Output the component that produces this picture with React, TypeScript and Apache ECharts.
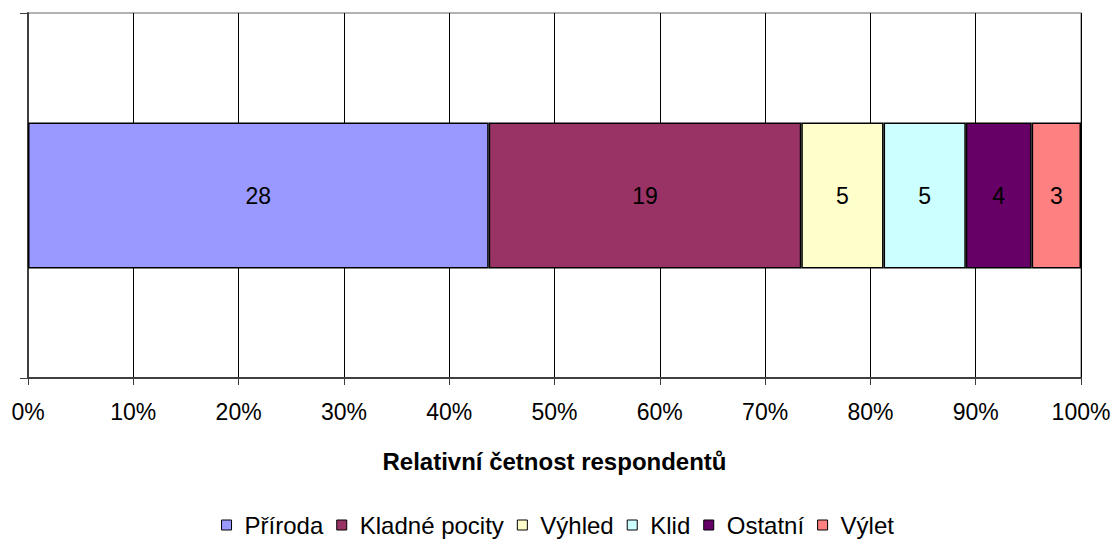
import React, { useEffect, useRef } from "react";
import * as echarts from "echarts";

const categories = ["Příroda", "Kladné pocity", "Výhled", "Klid", "Ostatní", "Výlet"];
const counts = [28, 19, 5, 5, 4, 3];
const colors = ["#9999FF", "#993366", "#FFFFCC", "#CCFFFF", "#660066", "#FF8080"];
const axisTitle = "Relativní četnost respondentů";

export default function App() {
  const ref = useRef<HTMLDivElement>(null);
  useEffect(() => {
    if (!ref.current) return;
    const chart = echarts.init(ref.current, null, { renderer: "svg" });
    const total = counts.reduce((a, b) => a + b, 0);
    const font = "'Liberation Sans', Arial, sans-serif";
    chart.setOption({
      animation: false,
      textStyle: { fontFamily: font },
      grid: {
        left: 28,
        right: 34,
        top: 13,
        bottom: 162,
        show: true,
        borderColor: "#999999",
        borderWidth: 1.5,
      },
      legend: {
        data: categories,
        top: 512,
        left: "center",
        padding: 0,
        itemWidth: 10,
        itemHeight: 10,
        itemGap: 13,
        icon: "rect",
        textStyle: { fontSize: 24, lineHeight: 26, color: "#000", fontFamily: font, padding: [0, 0, 0, 8] },
        itemStyle: { borderColor: "#000", borderWidth: 1 },
      },
      xAxis: {
        type: "value",
        min: 0,
        max: 100,
        interval: 10,
        name: axisTitle,
        nameLocation: "middle",
        nameGap: 71,
        nameTextStyle: { fontSize: 24, fontWeight: "bold", color: "#000", fontFamily: font },
        axisLine: { show: true, lineStyle: { color: "#404040", width: 2 } },
        axisTick: { show: true, length: 7, lineStyle: { color: "#404040", width: 1 } },
        axisLabel: { formatter: "{value}%", fontSize: 23, color: "#000", margin: 22, fontFamily: font },
        splitLine: { show: true, lineStyle: { color: "#000", width: 1 } },
      },
      yAxis: {
        type: "category",
        data: [""],
        axisLine: { show: true, lineStyle: { color: "#404040", width: 2 } },
        axisTick: { show: true, length: 8, lineStyle: { color: "#404040", width: 1 } },
        axisLabel: { show: false },
        splitLine: { show: false },
      },
      series: categories.map((name, i) => ({
        name,
        type: "bar",
        stack: "total",
        barWidth: "40%",
        data: [(counts[i] / total) * 100],
        itemStyle: { color: colors[i], borderColor: "#000", borderWidth: 1.5 },
        label: {
          show: true,
          position: "inside",
          formatter: () => String(counts[i]),
          fontSize: 23,
          color: "#000",
          fontFamily: font,
        },
      })),
    });
    return () => chart.dispose();
  }, []);
  return <div ref={ref} style={{ width: 1115, height: 540, position: "absolute", left: 0, top: 0 }} />;
}
